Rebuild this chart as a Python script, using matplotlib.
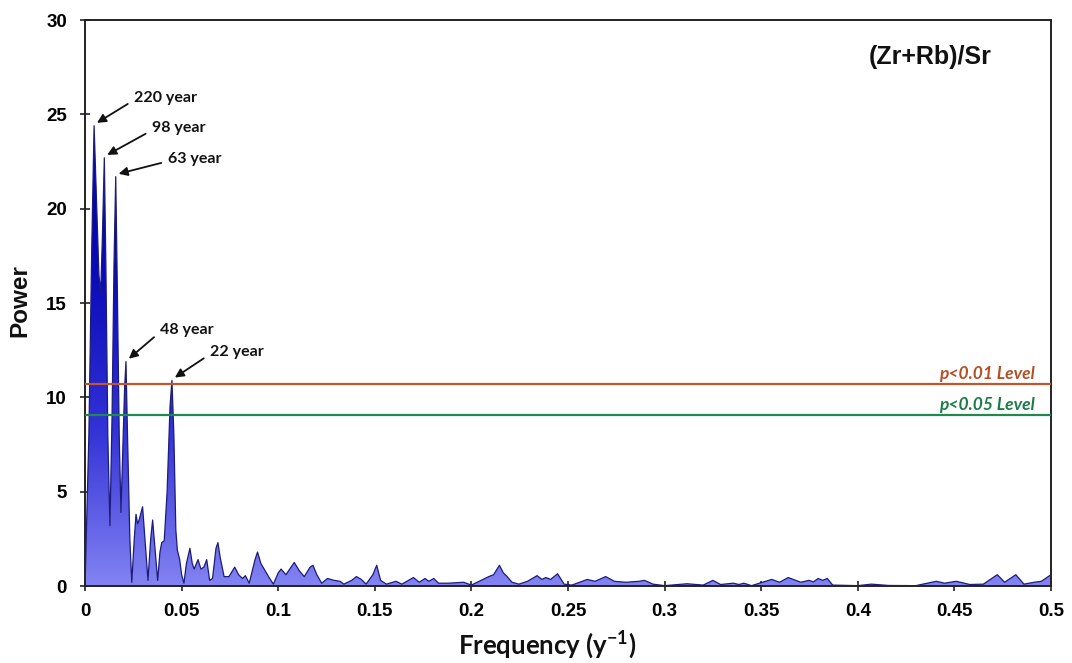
import numpy as np
import matplotlib
matplotlib.use("Agg")
import matplotlib.pyplot as plt
from matplotlib.patches import Polygon
from matplotlib.colors import LinearSegmentedColormap

plt.rcParams["mathtext.fontset"] = "custom"
plt.rcParams["mathtext.rm"] = "Lato:bold"
plt.rcParams["mathtext.it"] = "Lato:bold"
plt.rcParams["mathtext.bf"] = "Lato:bold"

# Spectrum of (Zr+Rb)/Sr: frequency (1/yr) and spectral power
freq = [0.0000, 0.0020, 0.0035, 0.0047, 0.0058, 0.0072, 0.0081, 0.0090, 0.0100, 0.0108,
        0.0118, 0.0129, 0.0140, 0.0150, 0.0159, 0.0167, 0.0177, 0.0186, 0.0195, 0.0205,
        0.0212, 0.0220, 0.0232, 0.0242, 0.0255, 0.0264, 0.0272, 0.0280, 0.0298, 0.0310,
        0.0326, 0.0340, 0.0350, 0.0362, 0.0376, 0.0388, 0.0397, 0.0410, 0.0425, 0.0440,
        0.0450, 0.0460, 0.0470, 0.0478, 0.0490, 0.0500, 0.0512, 0.0525, 0.0543, 0.0555,
        0.0565, 0.0585, 0.0600, 0.0615, 0.0630, 0.0645, 0.0660, 0.0678, 0.0688, 0.0700,
        0.0720, 0.0745, 0.0775, 0.0795, 0.0815, 0.0830, 0.0850, 0.0880, 0.0893, 0.0910,
        0.0950, 0.0975, 0.1000, 0.1015, 0.1040, 0.1083, 0.1110, 0.1135, 0.1165, 0.1180,
        0.1200, 0.1225, 0.1255, 0.1290, 0.1320, 0.1340, 0.1380, 0.1405, 0.1430, 0.1455,
        0.1490, 0.1510, 0.1530, 0.1560, 0.1610, 0.1640, 0.1700, 0.1730, 0.1760, 0.1780,
        0.1805, 0.1830, 0.1880, 0.1960, 0.2000, 0.2050, 0.2090, 0.2115, 0.2145, 0.2165,
        0.2185, 0.2210, 0.2246, 0.2290, 0.2340, 0.2365, 0.2385, 0.2410, 0.2446, 0.2480,
        0.2520, 0.2600, 0.2640, 0.2695, 0.2740, 0.2800, 0.2867, 0.2896, 0.2940, 0.3000,
        0.3116, 0.3200, 0.3250, 0.3290, 0.3355, 0.3385, 0.3410, 0.3450, 0.3555, 0.3595,
        0.3640, 0.3705, 0.3747, 0.3770, 0.3795, 0.3818, 0.3842, 0.3870, 0.4000, 0.4070,
        0.4160, 0.4300, 0.4406, 0.4450, 0.4510, 0.4580, 0.4650, 0.4722, 0.4760, 0.4818,
        0.4860, 0.4913, 0.4950, 0.5000]
power = [0.0, 8.0, 18.0, 24.4, 21.0, 16.5, 15.5, 18.5, 22.7, 17.0,
         8.0, 3.2, 9.0, 17.0, 21.7, 16.0, 8.0, 3.9, 7.0, 10.5,
         11.9, 8.0, 2.5, 0.2, 2.5, 3.8, 3.3, 3.5, 4.2, 2.5,
         0.3, 2.5, 3.5, 2.0, 0.3, 1.8, 2.3, 2.4, 5.0, 9.5,
         10.9, 8.0, 3.0, 1.9, 1.4, 0.6, 0.15, 1.2, 2.0, 1.2,
         0.9, 1.4, 0.9, 1.0, 1.4, 0.3, 0.4, 2.0, 2.3, 1.5,
         0.5, 0.5, 1.0, 0.6, 0.4, 0.55, 0.15, 1.4, 1.8, 1.2,
         0.5, 0.1, 0.7, 0.9, 0.6, 1.25, 0.8, 0.5, 1.0, 1.1,
         0.6, 0.15, 0.4, 0.3, 0.25, 0.1, 0.3, 0.5, 0.35, 0.1,
         0.6, 1.1, 0.3, 0.1, 0.25, 0.1, 0.45, 0.2, 0.4, 0.25,
         0.4, 0.15, 0.15, 0.2, 0.05, 0.3, 0.5, 0.6, 1.1, 0.7,
         0.5, 0.2, 0.1, 0.25, 0.55, 0.35, 0.45, 0.35, 0.65, 0.1,
         0.05, 0.35, 0.25, 0.5, 0.25, 0.2, 0.25, 0.3, 0.1, 0.02,
         0.12, 0.05, 0.3, 0.08, 0.15, 0.08, 0.15, 0.02, 0.35, 0.2,
         0.45, 0.2, 0.3, 0.22, 0.4, 0.3, 0.4, 0.05, 0.02, 0.1,
         0.03, 0.02, 0.25, 0.15, 0.25, 0.08, 0.1, 0.6, 0.2, 0.6,
         0.1, 0.2, 0.25, 0.6]

# significance levels
level_01 = 10.7
level_05 = 9.05

# labelled periods: text, peak frequency, peak power, text position
period_labels = ["220 year", "98 year", "63 year", "48 year", "22 year"]
period_freq = [0.0047, 0.0100, 0.0159, 0.0212, 0.0450]
period_power = [24.4, 22.7, 21.7, 11.9, 10.9]
label_xy = [(0.0254, 25.87), (0.0347, 24.27), (0.0430, 22.63), (0.0388, 13.57), (0.0647, 12.40)]

x_ticks = [0, 0.05, 0.1, 0.15, 0.2, 0.25, 0.3, 0.35, 0.4, 0.45, 0.5]
x_tick_labels = ["0", "0.05", "0.1", "0.15", "0.2", "0.25", "0.3", "0.35", "0.4", "0.45", "0.5"]
y_ticks = [0, 5, 10, 15, 20, 25, 30]

fig = plt.figure(figsize=(10.72, 6.63), dpi=100)
ax = fig.add_axes([0.0793, 0.1161, 0.9011, 0.8537])
ax.set_xlim(0, 0.5)
ax.set_ylim(0, 30)

# gradient-filled spectrum
verts = list(zip(freq, power)) + [(freq[-1], 0), (freq[0], 0)]
poly = Polygon(verts, closed=True, facecolor="none", edgecolor="none")
ax.add_patch(poly)
cmap = LinearSegmentedColormap.from_list("spec", ["#8383f2", "#3232d6", "#0a0ab8", "#0000a6"])
grad = np.linspace(0, 1, 256).reshape(-1, 1)
im = ax.imshow(grad, cmap=cmap, extent=[0, 0.5, 0, 25], origin="lower",
               aspect="auto", zorder=2, interpolation="bilinear")
im.set_clip_path(poly)
ax.plot(freq, power, color="#1c1c7a", lw=0.9, zorder=3, solid_joinstyle="round")

# confidence levels
ax.axhline(level_01, color="#c0572c", lw=1.6, zorder=4)
ax.axhline(level_05, color="#1e8a4e", lw=1.6, zorder=4)
lvl_font = dict(family="Lato", fontsize=12.5, fontweight="bold", style="italic", ha="right", va="bottom")
ax.text(0.4917, level_01 + 0.1, "p<0.01 Level", color="#b44f26", **lvl_font)
ax.text(0.4917, level_05 + 0.1, "p<0.05 Level", color="#1a7d45", **lvl_font)

# period annotations
for lab, fx, py, (tx, ty) in zip(period_labels, period_freq, period_power, label_xy):
    ax.annotate(lab, xy=(fx + 0.0015, py + 0.15), xytext=(tx, ty),
                fontsize=11.5, fontweight="bold", family="Lato", color="#111111",
                ha="left", va="center", zorder=5,
                arrowprops=dict(arrowstyle="-|>", color="#111111", lw=1.3,
                                mutation_scale=13, shrinkA=3, shrinkB=0,
                                relpos=(0, 0.35)))

fig.text(992 / 1072, 1 - 57 / 663, "(Zr+Rb)/Sr", fontsize=18, fontweight="bold",
         family="Liberation Sans", ha="right", va="center", color="#111111")

ax.set_xticks(x_ticks)
ax.set_xticklabels(x_tick_labels)
ax.set_yticks(y_ticks)
for lbl in ax.get_xticklabels() + ax.get_yticklabels():
    lbl.set_fontfamily("Liberation Sans")
    lbl.set_fontweight("bold")
    lbl.set_fontsize(13.5)
ax.tick_params(direction="inout", length=7, width=1.2, color="#222222")
ax.tick_params(axis="x", pad=8.5)
ax.tick_params(axis="y", pad=9.5)
for sp in ax.spines.values():
    sp.set_linewidth(1.4)
    sp.set_color("#222222")

fig.text(20 / 1072, 1 - 301 / 663, "Power", fontsize=17.5, fontweight="bold",
         family="Liberation Sans", rotation=90, ha="center", va="center", color="#111111")
fig.text(547 / 1072, 1 - 645 / 663, "Frequency (y$^{-1}$)", fontsize=18.5, fontweight="bold",
         family="Lato", ha="center", va="center", color="#111111")

fig.savefig("out.png", dpi=100)
